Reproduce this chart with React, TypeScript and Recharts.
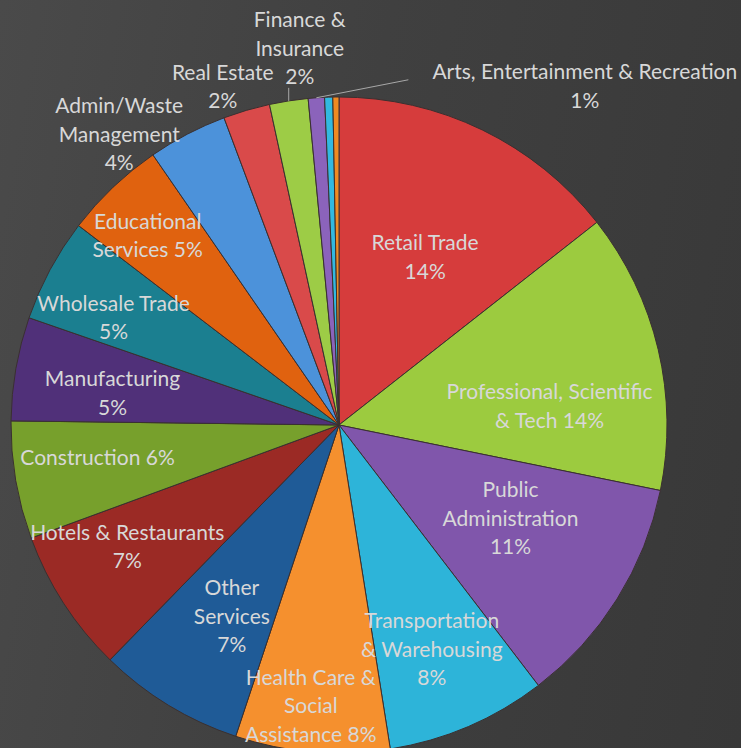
import { PieChart, Pie, Cell } from 'recharts';

const industries = [
	'Retail Trade',
	'Professional, Scientific & Tech',
	'Public Administration',
	'Transportation & Warehousing',
	'Health Care & Social Assistance',
	'Other Services',
	'Hotels & Restaurants',
	'Construction',
	'Manufacturing',
	'Wholesale Trade',
	'Educational Services',
	'Admin/Waste Management',
	'Real Estate',
	'Finance & Insurance',
	'Arts, Entertainment & Recreation',
	'Small sector A',
	'Small sector B',
];

// share of jobs, percent
const shares = [14.4, 13.8, 11.4, 7.9, 7.6, 7.2, 7.1, 5.8, 5.1, 5.1, 5.0, 3.9, 2.3, 1.9, 0.8, 0.4, 0.3];

// label text, {p} is replaced by the rounded percent
const labelLines = [
	['Retail Trade', '{p}'],
	['Professional, Scientific', '& Tech  {p}'],
	['Public', 'Administration', '{p}'],
	['Transportation', '& Warehousing', '{p}'],
	['Health Care &', 'Social', 'Assistance {p}'],
	['Other', 'Services', '{p}'],
	['Hotels & Restaurants', '{p}'],
	['Construction {p}'],
	['Manufacturing', '{p}'],
	['Wholesale Trade', '{p}'],
	['Educational', 'Services {p}'],
	['Admin/Waste', 'Management', '{p}'],
	['Real Estate', '{p}'],
	['Finance &', 'Insurance', '{p}'],
	['Arts, Entertainment & Recreation', '{p}'],
	[],
	[],
];

const colors = [
	'#d63c3c', '#9ccb3f', '#8056ab', '#2db4d9', '#f5902e', '#1f5b97',
	'#9b2a25', '#77a02c', '#503079', '#1b7f90', '#e0620f', '#4c92da',
	'#d94a4a', '#9dcc46', '#8b63bb', '#32b9e0', '#f08a22',
];

// label placement: radius as fraction of outer radius, clockwise nudge in degrees
const labelPos = [
	{ rf: 0.58, turn: 1 },
	{ rf: 0.645, turn: 7.7 },
	{ rf: 0.593, turn: -3.9 },
	{ rf: 0.736, turn: 0.6 },
	{ rf: 0.855, turn: 1.1 },
	{ rf: 0.665, turn: -1.9 },
	{ rf: 0.742, turn: 3.4 },
	{ rf: 0.742, turn: 2.5 },
	{ rf: 0.698, turn: -1.5 },
	{ rf: 0.763, turn: -2.5 },
	{ rf: 0.824, turn: -1.5 },
	{ rf: 1.115, turn: -9.4 },
	{ rf: 1.095, turn: -2.5 },
	{ rf: 1.159, turn: 2.9 },
	{ rf: 1.28, turn: 39.8 },
	null,
	null,
];

// leader lines drawn from the slice edge
const leaders: Record<number, { dx: number; dy: number }> = {
	13: { dx: 0, dy: -13 },
	14: { dx: 92, dy: -18 },
};

const data = industries.map((name, i) => ({ name, value: shares[i] }));

const RAD = Math.PI / 180;
const LINE_H = 28.5;

const renderLabel = (props: any) => {
	const { cx, cy, midAngle, outerRadius, index, percent } = props;
	const pos = labelPos[index];
	if (!pos) return null;
	const ang = midAngle - pos.turn;
	const r = outerRadius * pos.rf;
	const x = cx + r * Math.cos(-ang * RAD);
	const y = cy + r * Math.sin(-ang * RAD);
	const pct = Math.round(percent * 100) + '%';
	const lines = labelLines[index].map((l) => l.replace('{p}', pct));
	const top = y - ((lines.length - 1) * LINE_H) / 2;
	const lead = leaders[index];
	let leader = null;
	if (lead) {
		const ex = cx + outerRadius * Math.cos(-midAngle * RAD);
		const ey = cy + outerRadius * Math.sin(-midAngle * RAD);
		leader = (
			<line x1={ex} y1={ey} x2={ex + lead.dx} y2={ey + lead.dy} stroke="#a8a8a8" strokeWidth={1} />
		);
	}
	return (
		<g key={'lbl' + index}>
			{leader}
			<text
				x={x}
				y={top}
				fill="#d8d8d8"
				fontFamily="Lato, 'Open Sans', sans-serif"
				fontSize={21}
				textAnchor="middle"
				dominantBaseline="central"
			>
				{lines.map((l, k) => (
					<tspan key={k} x={x} y={top + k * LINE_H}>
						{l}
					</tspan>
				))}
			</text>
		</g>
	);
};

export default function App() {
	return (
		<div
			style={{
				position: 'absolute',
				left: 0,
				top: 0,
				width: 741,
				height: 748,
				background: 'linear-gradient(100deg, #4a4a4a 0%, #404040 45%, #383838 100%)',
				overflow: 'hidden',
			}}
		>
			<PieChart width={741} height={748} margin={{ top: 0, right: 0, bottom: 0, left: 0 }}>
				<Pie
					data={data}
					dataKey="value"
					nameKey="name"
					cx={339}
					cy={425}
					outerRadius={328}
					startAngle={90}
					endAngle={-270}
					stroke="#3a3030"
					strokeWidth={1}
					label={renderLabel}
					labelLine={false}
					isAnimationActive={false}
				>
					{data.map((d, i) => (
						<Cell key={d.name} fill={colors[i]} />
					))}
				</Pie>
			</PieChart>
		</div>
	);
}
